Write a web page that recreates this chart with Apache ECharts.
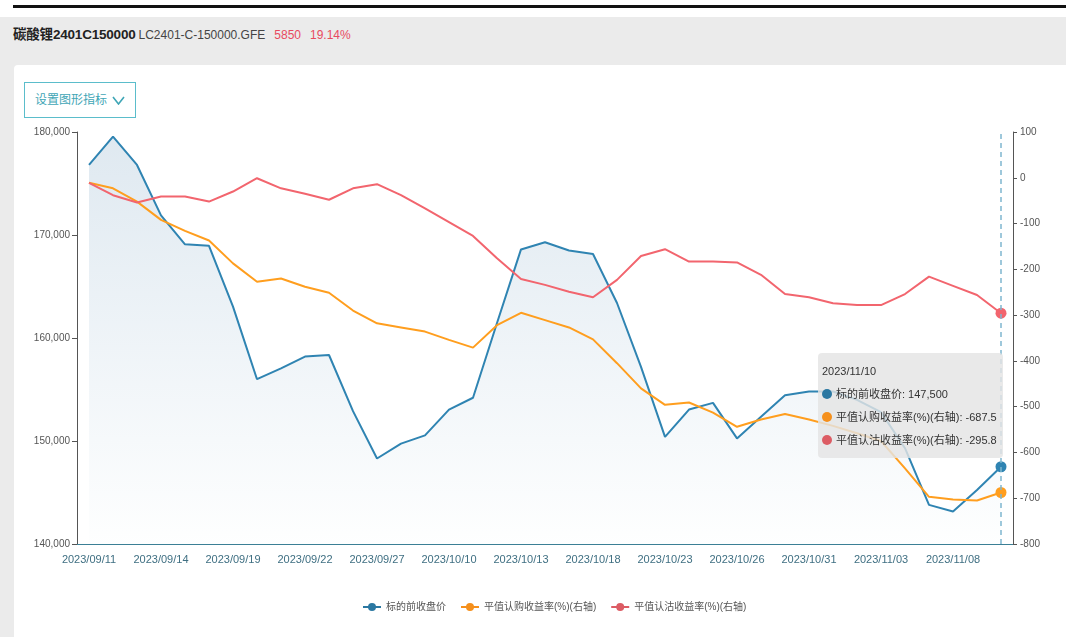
<!DOCTYPE html>
<html>
<head>
<meta charset="utf-8">
<script src="https://cdn.jsdelivr.net/npm/echarts@6/dist/echarts.min.js"></script>
<style>
  body { margin: 0; width: 1066px; height: 637px; position: relative; overflow: hidden; background: #fff;
         font-family: "Liberation Sans", "Noto Sans CJK SC", sans-serif; }
  #topline { position: absolute; left: 13px; top: 5px; width: 1053px; height: 3px; background: #111; }
  #band { position: absolute; left: 0; top: 17px; width: 1066px; height: 620px; background: #ebebeb; }
  #title { position: absolute; left: 13px; top: 24px; height: 20px; line-height: 20px; white-space: nowrap; }
  #title .name { font-weight: bold; font-size: 13.5px; color: #222; letter-spacing: -0.2px; }
  #title .code { font-size: 12px; color: #444; margin-left: 3px; }
  #title .red { font-size: 12px; color: #e84a5f; margin-left: 9px; }
  #panel { position: absolute; left: 14px; top: 65px; right: 0; bottom: 0; background: #fff; border-radius: 4px 0 0 0; }
  #btn { position: absolute; left: 24px; top: 82px; width: 100px; height: 34px; border: 1px solid #5bbdcb;
         color: #3fa6b6; font-size: 12px; line-height: 34px; padding-left: 10px; z-index: 3; background: #fff; }
  #btn svg { position: absolute; left: 87px; top: 13px; }
  #chart { position: absolute; left: 0; top: 0; width: 1066px; height: 637px; z-index: 2; }
</style>
</head>
<body>
<div id="topline"></div>
<div id="band"></div>
<div id="title"><span class="name">碳酸锂2401C150000</span><span class="code">LC2401-C-150000.GFE</span><span class="red">5850</span><span class="red">19.14%</span></div>
<div id="panel"></div>
<div id="chart"></div>
<div id="btn">设置图形指标<svg width="13" height="9" viewBox="0 0 13 9"><polyline points="1,1 6.5,8 12,1" fill="none" stroke="#3fa6b6" stroke-width="1.6"/></svg></div>
<script>
const dates = [
  "2023/09/11", "2023/09/12", "2023/09/13", "2023/09/14", "2023/09/15",
  "2023/09/18", "2023/09/19", "2023/09/20", "2023/09/21", "2023/09/22",
  "2023/09/25", "2023/09/26", "2023/09/27", "2023/09/28",
  "2023/10/09", "2023/10/10", "2023/10/11", "2023/10/12", "2023/10/13",
  "2023/10/16", "2023/10/17", "2023/10/18", "2023/10/19", "2023/10/20",
  "2023/10/23", "2023/10/24", "2023/10/25", "2023/10/26", "2023/10/27",
  "2023/10/30", "2023/10/31", "2023/11/01", "2023/11/02", "2023/11/03",
  "2023/11/06", "2023/11/07", "2023/11/08", "2023/11/09", "2023/11/10"
];

// 标的前收盘价 (左轴)
const price = [
  176800, 179550, 176800, 171900, 169100,
  168950, 163050, 156000, 157050, 158200,
  158350, 152900, 148300, 149750,
  150550, 153050, 154200, 161450, 168600,
  169300, 168500, 168150, 163400, 157200,
  150400, 153050, 153700, 150250, 152350,
  154450, 154800, 154800, 154000, 152800,
  149300, 143800, 143150, 145250, 147500
];

// 平值认购收益率(%) (右轴)
const callYield = [
  -11, -23, -52, -92, -116,
  -137, -187, -227, -220, -238,
  -251, -290, -318, -327,
  -336, -354, -371, -322, -295,
  -311, -327, -353, -405, -460,
  -496, -491, -513, -544, -528,
  -516, -528, -542, -558, -575,
  -635, -697, -703, -705, -687.5
];

// 平值认沽收益率(%) (右轴)
const putYield = [
  -11, -38, -54, -41, -41,
  -52, -30, -1, -23, -35,
  -48, -23, -14, -38,
  -67, -97, -127, -176, -221,
  -234, -249, -261, -223, -171,
  -156, -183, -183, -185, -212,
  -254, -261, -274, -278, -278,
  -254, -216, -236, -256, -295.8
];

const seriesNames = ["标的前收盘价", "平值认购收益率(%)(右轴)", "平值认沽收益率(%)(右轴)"];
const colors = ["#2b78a2", "#f5901c", "#dc5c64"];

const last = dates.length - 1;
const lastDot = (v, p) => (p.dataIndex === last ? 10 : 0);

const fmtNum = (v) => String(v).replace(/\B(?=(\d{3})+(?!\d))/g, ",");

const tooltipHtml = (params) => {
  let html = '<div style="line-height:23px">' + params[0].axisValue + "</div>";
  params.forEach((p) => {
    let val = p.seriesIndex === 0 ? fmtNum(p.value) : p.value;
    html +=
      '<div style="line-height:23px;white-space:nowrap">' +
      '<span style="display:inline-block;width:10px;height:10px;border-radius:5px;margin-right:4px;vertical-align:-1px;background:' +
      p.color + '"></span>' + p.seriesName + ": " + val + "</div>";
  });
  return html;
};

const getOption = () => {
  return {
    animation: false,
    color: colors,
    textStyle: { fontFamily: '"Liberation Sans", "Noto Sans CJK SC", sans-serif' },
    grid: { left: 77, right: 53, top: 132, bottom: 93 },
    tooltip: {
      trigger: "axis",
      position: [818, 353],
      backgroundColor: "rgba(228,228,228,0.82)",
      borderWidth: 0,
      padding: [7, 6, 6, 4],
      extraCssText: "box-shadow:none;border-radius:4px;",
      textStyle: { color: "#333", fontSize: 11 },
      axisPointer: {
        type: "line",
        lineStyle: { color: "#7fb6cf", width: 1.5, type: [5, 4] },
      },
      formatter: tooltipHtml,
    },
    legend: {
      data: seriesNames,
      left: 357,
      top: 597,
      itemWidth: 18,
      itemHeight: 10,
      itemGap: 14,
      textStyle: { fontSize: 10, color: "#555" },
    },
    xAxis: {
      type: "category",
      data: dates,
      boundaryGap: true,
      axisLine: { onZero: false, lineStyle: { color: "#3b7f95", width: 1 } },
      axisTick: { interval: 2, length: 5, lineStyle: { color: "#3b7f95" } },
      axisLabel: { interval: 2, fontSize: 11, color: "#3f6f82", margin: 10 },
    },
    yAxis: [
      {
        type: "value",
        min: 140000,
        max: 180000,
        interval: 10000,
        position: "left",
        splitLine: { show: false },
        axisLine: { show: true, lineStyle: { color: "#555" } },
        axisTick: { show: true, length: 5, lineStyle: { color: "#555" } },
        axisLabel: { fontSize: 10, color: "#555", margin: 7, formatter: fmtNum },
      },
      {
        type: "value",
        min: -800,
        max: 100,
        interval: 100,
        position: "right",
        splitLine: { show: false },
        axisLine: { show: true, lineStyle: { color: "#555" } },
        axisTick: { show: true, length: 4, lineStyle: { color: "#555" } },
        axisLabel: { fontSize: 10, color: "#555", margin: 7 },
      },
    ],
    series: [
      {
        name: seriesNames[0],
        type: "line",
        yAxisIndex: 0,
        data: price,
        symbol: "circle",
        symbolSize: lastDot,
        showAllSymbol: true,
        lineStyle: { width: 2 },
        areaStyle: {
          color: new echarts.graphic.LinearGradient(0, 0, 0, 1, [
            { offset: 0, color: "rgba(150,176,196,0.5)" },
            { offset: 1, color: "rgba(230,232,235,0.5)" },
          ]),
        },
        z: 3,
      },
      {
        name: seriesNames[1],
        type: "line",
        yAxisIndex: 1,
        data: callYield,
        symbol: "circle",
        symbolSize: lastDot,
        showAllSymbol: true,
        lineStyle: { width: 2 },
        z: 4,
      },
      {
        name: seriesNames[2],
        type: "line",
        yAxisIndex: 1,
        data: putYield,
        symbol: "circle",
        symbolSize: lastDot,
        showAllSymbol: true,
        lineStyle: { width: 2 },
        z: 4,
      },
    ],
  };
};

const chart = echarts.init(document.getElementById("chart"));
chart.setOption(getOption());
chart.dispatchAction({ type: "showTip", seriesIndex: 0, dataIndex: last });
</script>
</body>
</html>
